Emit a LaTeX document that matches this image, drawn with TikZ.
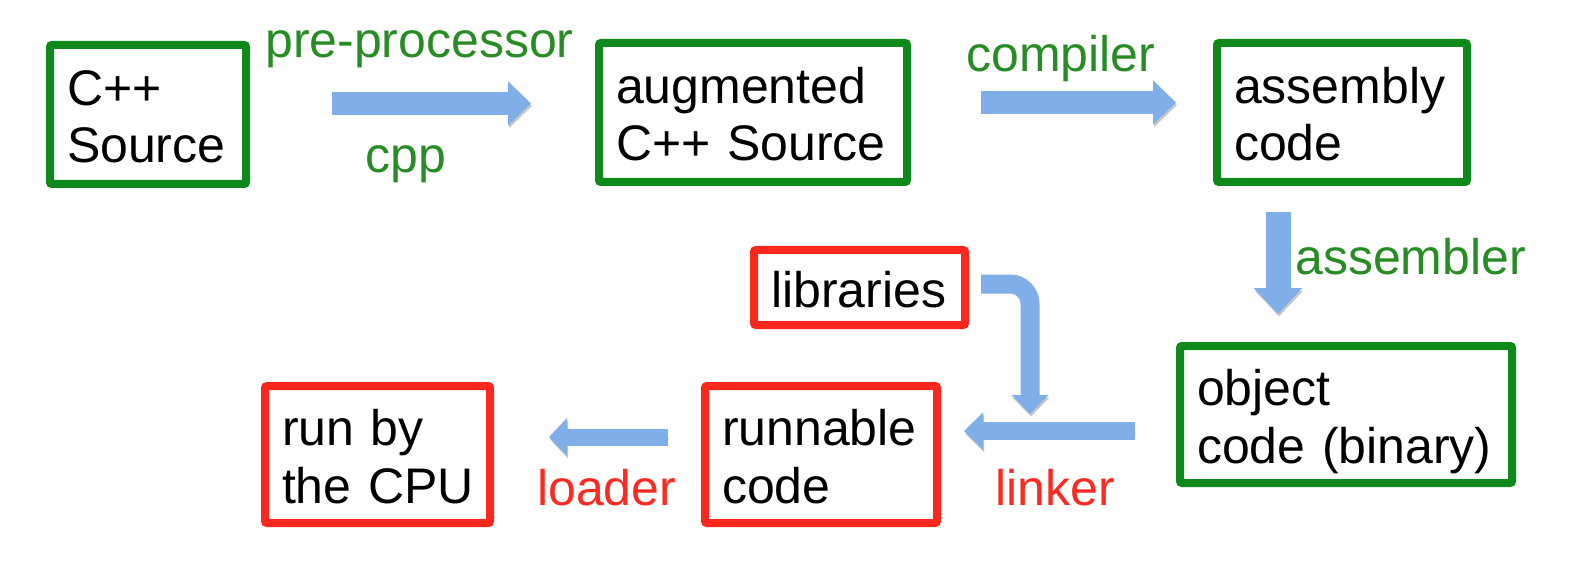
\documentclass[tikz,border=0pt]{standalone}
\usepackage{fontspec}
\setmainfont{Liberation Sans}
\usetikzlibrary{arrows.meta}
\definecolor{boxgreen}{RGB}{16,137,28}
\definecolor{labgreen}{RGB}{40,140,36}
\definecolor{boxred}{RGB}{252,40,30}
\definecolor{labred}{RGB}{252,42,32}
\definecolor{arrblue}{RGB}{128,174,232}
\tikzset{
  box/.style={draw, line width=8pt, rounded corners=2pt, inner xsep=17pt, inner ysep=0pt,
    align=left, anchor=center, font=\fontsize{50}{57.5}\selectfont},
  gbox/.style={box, draw=boxgreen},
  rbox/.style={box, draw=boxred},
  twoline/.style={text height=55pt, text depth=73pt},
  oneline/.style={text height=45pt, text depth=6pt},
  lab/.style={anchor=base west, inner sep=0pt, font=\fontsize{50}{57.5}\selectfont},
  glab/.style={lab, text=labgreen},
  rlab/.style={lab, text=labred},
  barrow/.style={draw=arrblue, line width=#1,
    preaction={draw=black!22, transform canvas={xshift=1pt,yshift=-2.5pt}}},
  bigtip/.style={-{Triangle[width=43pt,length=23pt]}},
  smalltip/.style={-{Triangle[width=36pt,length=19pt]}},
}
\begin{document}
\begin{tikzpicture}[x=1pt,y=-1pt]
\useasboundingbox (0,0) rectangle (1580,564);
% boxes
\node[gbox, twoline, minimum width=196pt, minimum height=139pt, text width=162pt] (src) at (148,114.5) {C++\\Source};
\node[gbox, twoline, minimum width=308pt, minimum height=139pt, text width=274pt] (aug) at (753,112.5) {augmented\\\mbox{C++ Source}};
\node[gbox, twoline, minimum width=250pt, minimum height=139pt, text width=216pt] (asm) at (1342,112.5) {assembly\\code};
\node[gbox, twoline, minimum width=332pt, minimum height=137pt, text width=298pt] (obj) at (1346,414.5) {object\\\mbox{code (binary)}};
\node[rbox, oneline, minimum width=211pt, minimum height=75pt, text width=177pt] (lib) at (859.5,287.5) {libraries};
\node[rbox, twoline, minimum width=232pt, minimum height=137pt, text width=198pt] (run) at (821,454.5) {runnable\\code};
\node[rbox, twoline, minimum width=225pt, minimum height=137pt, text width=191pt] (cpu) at (377.5,454.5) {\mbox{run by}\\\mbox{the CPU}};
% labels
\node[glab] (lpre) at (265,58) {pre-processor};
\node[glab] (lcpp) at (365,173) {cpp};
\node[glab] (lcomp) at (966,72) {compiler};
\node[glab] (lasm) at (1295,274) {assembler};
\node[rlab] (llink) at (995,505) {linker};
\node[rlab] (lload) at (537,505) {loader};
% arrows
\draw[barrow=23pt, bigtip] ([xshift=82pt,yshift=11pt]src.east) -- ([xshift=-64pt,yshift=9pt]aug.west);
\draw[barrow=23pt, bigtip] ([xshift=70pt,yshift=10pt]aug.east) -- ([xshift=-37pt,yshift=10pt]asm.west);
\draw[barrow=25pt, -{Triangle[width=47pt,length=26pt]}] ([xshift=-64pt,yshift=-26pt]asm.south) -- ([xshift=-68pt,yshift=28pt]obj.north);
\draw[barrow=18pt, smalltip] ([xshift=-41pt,yshift=-16.5pt]obj.west) -- ([xshift=23pt,yshift=23.5pt]run.east);
\draw[barrow=17pt, -{Triangle[width=37pt,length=18pt]}] ([xshift=-33pt,yshift=17.5pt]run.west) -- ([xshift=55pt,yshift=17.5pt]cpu.east);
\coordinate (libend) at (1030,414);
\draw[barrow=19pt, smalltip, rounded corners=20pt] ([xshift=12pt,yshift=3.5pt]lib.east) -| (libend);
\end{tikzpicture}
\end{document}
